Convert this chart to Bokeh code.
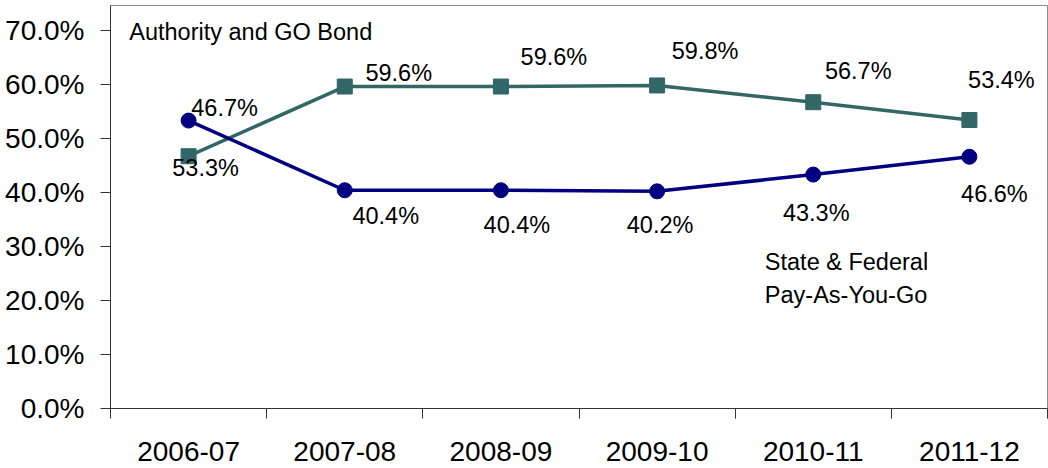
from bokeh.plotting import figure
from bokeh.models import (ColumnDataSource, Range1d, FixedTicker, PrintfTickFormatter,
                          Label)
from bokeh.core.properties import value
from bokeh.embed import file_html
from bokeh.resources import INLINE

# Fiscal years and the share of funding from each source (%)
years = ["2006-07", "2007-08", "2008-09", "2009-10", "2010-11", "2011-12"]
authority_go_bond = [46.7, 59.6, 59.6, 59.8, 56.7, 53.4]
state_federal_payg = [53.3, 40.4, 40.4, 40.2, 43.3, 46.6]
y_ticks = [0, 10, 20, 30, 40, 50, 60, 70]

# Label offsets in screen pixels (x right, y down) for each point's value label
bond_label_dx = [36, 54, 53, 48, 45, 32]
bond_label_dy = [-48, -13.5, -30, -34, -31, -40.5]
payg_label_dx = [17, 41, 16, 3, 3, 25]
payg_label_dy = [47, 26, 35, 34, 38, 37]

FONT = "Liberation Sans"
TEAL = "#336666"
NAVY = "#000080"

# categories sit at the centres of equal-width slots
xs = [i + 0.5 for i in range(len(years))]

p = figure(width=1048, height=468, output_backend="svg", toolbar_location=None,
           x_range=Range1d(0, len(years)), y_range=Range1d(0, 74.6),
           min_border_left=110, min_border_right=1, min_border_top=5,
           min_border_bottom=60)
p.background_fill_color = "white"
p.border_fill_color = "white"
p.outline_line_color = "#8c8c8c"
p.outline_line_width = 1
p.xgrid.visible = False
p.ygrid.visible = False

# y axis: percentages
p.yaxis.ticker = FixedTicker(ticks=y_ticks, minor_ticks=[])
p.yaxis.formatter = PrintfTickFormatter(format="%.1f%%")
p.yaxis.major_tick_out = 10
p.yaxis.major_tick_in = 0
p.yaxis.major_label_standoff = 16
p.yaxis.major_label_text_font = FONT
p.yaxis.major_label_text_font_size = "28px"
p.yaxis.major_label_text_color = "black"
p.yaxis.axis_line_color = "#333333"
p.yaxis.major_tick_line_color = "#333333"

# x axis: year labels at slot centres, tick marks at slot boundaries
p.xaxis.ticker = FixedTicker(ticks=xs, minor_ticks=list(range(len(years) + 1)))
p.xaxis.major_label_overrides = {x: y for x, y in zip(xs, years)}
p.xaxis.major_tick_out = 0
p.xaxis.major_tick_in = 0
p.xaxis.minor_tick_out = 10
p.xaxis.minor_tick_in = 0
p.xaxis.minor_tick_line_color = "#333333"
p.xaxis.major_label_standoff = 23
p.xaxis.major_label_text_font = FONT
p.xaxis.major_label_text_font_size = "28px"
p.xaxis.major_label_text_color = "black"
p.xaxis.axis_line_color = "#333333"

bond = ColumnDataSource(dict(
    x=xs, y=authority_go_bond,
    label=[f"{v:.1f}%" for v in authority_go_bond],
    dx=bond_label_dx, dy=bond_label_dy))
payg = ColumnDataSource(dict(
    x=xs, y=state_federal_payg,
    label=[f"{v:.1f}%" for v in state_federal_payg],
    dx=payg_label_dx, dy=payg_label_dy))

p.line("x", "y", source=bond, line_color=TEAL, line_width=3.5)
p.scatter("x", "y", source=bond, marker="square", size=15,
          fill_color=TEAL, line_color=TEAL)
p.line("x", "y", source=payg, line_color=NAVY, line_width=3.5)
p.scatter("x", "y", source=payg, marker="circle", size=15,
          fill_color=NAVY, line_color=NAVY)

for src in (bond, payg):
    p.text("x", "y", text="label", source=src, x_offset="dx", y_offset="dy",
           text_align="center", text_baseline="middle",
           text_font=value(FONT), text_font_size="23.5px", text_color="black")

# series names written inside the plot
p.add_layout(Label(x=0.12, y=69.7, text="Authority and GO Bond",
                   text_align="left", text_baseline="middle",
                   text_font=FONT, text_font_size="23.5px", text_color="black"))
p.add_layout(Label(x=4.19, y=27.1, text="State & Federal",
                   text_align="left", text_baseline="middle",
                   text_font=FONT, text_font_size="23.5px", text_color="black"))
p.add_layout(Label(x=4.19, y=21.1, text="Pay-As-You-Go",
                   text_align="left", text_baseline="middle",
                   text_font=FONT, text_font_size="23.5px", text_color="black"))

open("out.html", "w").write(file_html(p, INLINE))
